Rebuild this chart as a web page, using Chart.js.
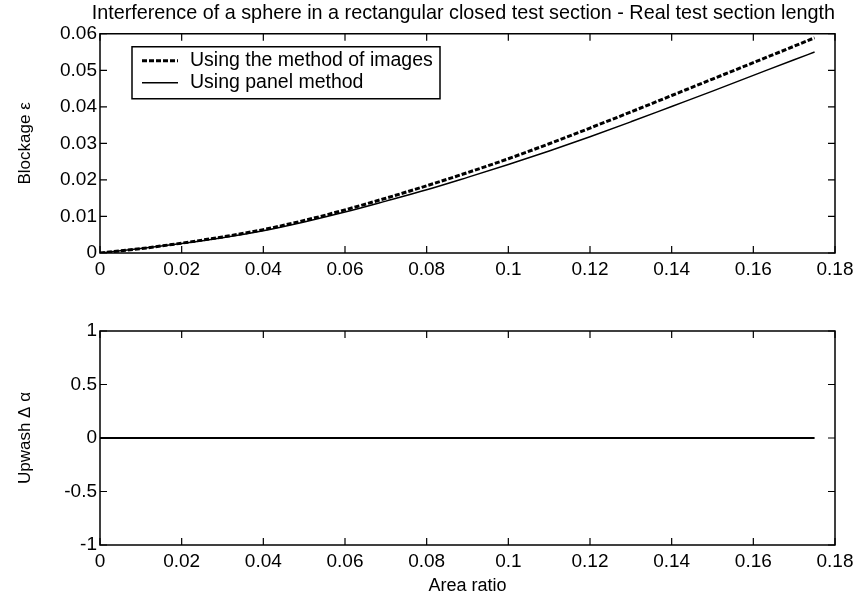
<!DOCTYPE html>
<html>
<head>
<meta charset="utf-8">
<script src="https://cdn.jsdelivr.net/npm/chart.js@4/dist/chart.umd.min.js"></script>
<style>
  body { margin: 0; background: #fff; }
  #wrap { position: relative; width: 856px; height: 600px; }
  canvas { position: absolute; left: 0; }
  #top { top: 0; }
  #bottom { top: 300px; }
</style>
</head>
<body>
<div id="wrap">
  <canvas id="top" width="856" height="300"></canvas>
  <canvas id="bottom" width="856" height="300"></canvas>
</div>
<script>
// values
const areaRatio = [0, 0.01, 0.02, 0.03, 0.04, 0.05, 0.06, 0.07, 0.08, 0.09, 0.10,
                   0.11, 0.12, 0.13, 0.14, 0.15, 0.16, 0.17, 0.175];
const blockageImages = [0, 0.0012, 0.0027, 0.0044, 0.0064, 0.0089, 0.0118, 0.0150, 0.0184, 0.0220, 0.0258,
                        0.0299, 0.0342, 0.0386, 0.0431, 0.0476, 0.0521, 0.0566, 0.0589];
const blockagePanel = [0, 0.0012, 0.0026, 0.0042, 0.0061, 0.0085, 0.0112, 0.0142, 0.0173, 0.0207, 0.0242,
                       0.0279, 0.0318, 0.0359, 0.0401, 0.0443, 0.0486, 0.0529, 0.0550];
const upwash = [0, 0, 0, 0, 0, 0, 0, 0, 0, 0, 0, 0, 0, 0, 0, 0, 0, 0, 0];
const xTicks = [0, 0.02, 0.04, 0.06, 0.08, 0.1, 0.12, 0.14, 0.16, 0.18];
const blockageTicks = [0, 0.01, 0.02, 0.03, 0.04, 0.05, 0.06];
const upwashTicks = [-1, -0.5, 0, 0.5, 1];
const labels = ['Using the method of images', 'Using panel method'];

const FONT = 'Liberation Sans, Arial, Helvetica, sans-serif';

function pts(ys) {
    return areaRatio.map(function(x, i) { return { x: x, y: ys[i] }; });
}

function fmt(v) {
    return String(Math.round(v * 1000) / 1000);
}

// MATLAB style box with inward ticks on all four sides
const boxPlugin = {
    id: 'box',
    afterDraw: function(chart) {
        const ctx = chart.ctx;
        const a = chart.chartArea;
        const len = 7;
        ctx.save();
        ctx.strokeStyle = '#000';
        ctx.lineWidth = 1.5;
        ctx.strokeRect(a.left, a.top, a.right - a.left, a.bottom - a.top);
        ctx.lineWidth = 1.2;
        ctx.beginPath();
        chart.scales.x.ticks.forEach(function(t) {
            const px = chart.scales.x.getPixelForValue(t.value);
            ctx.moveTo(px, a.bottom); ctx.lineTo(px, a.bottom - len);
            ctx.moveTo(px, a.top); ctx.lineTo(px, a.top + len);
        });
        chart.scales.y.ticks.forEach(function(t) {
            const py = chart.scales.y.getPixelForValue(t.value);
            ctx.moveTo(a.left, py); ctx.lineTo(a.left + len, py);
            ctx.moveTo(a.right, py); ctx.lineTo(a.right - len, py);
        });
        ctx.stroke();
        ctx.restore();
    }
};

// legend box inside the plot, upper left
const legendPlugin = {
    id: 'boxLegend',
    afterDraw: function(chart, args, opts) {
        if (!opts.show) return;
        const ctx = chart.ctx;
        const a = chart.chartArea;
        const x0 = a.left + 32, y0 = a.top + 13, w = 308, h = 52;
        ctx.save();
        ctx.fillStyle = '#fff';
        ctx.fillRect(x0, y0, w, h);
        ctx.strokeStyle = '#000';
        ctx.lineWidth = 1.5;
        ctx.strokeRect(x0, y0, w, h);
        ctx.font = '19.5px ' + FONT;
        ctx.textBaseline = 'middle';
        ctx.fillStyle = '#000';
        chart.data.datasets.forEach(function(ds, i) {
            const yy = y0 + 14 + i * 22;
            ctx.beginPath();
            ctx.setLineDash(ds.borderDash || []);
            ctx.lineWidth = ds.borderWidth;
            ctx.moveTo(x0 + 10, yy);
            ctx.lineTo(x0 + 46, yy);
            ctx.stroke();
            ctx.setLineDash([]);
            ctx.fillText(ds.label, x0 + 58, yy);
        });
        ctx.restore();
    }
};

function axisX(height, title) {
    return {
        type: 'linear',
        min: 0,
        max: 0.18,
        afterBuildTicks: function(s) { s.ticks = xTicks.map(function(v) { return { value: v }; }); },
        afterFit: function(s) { s.height = height; s.paddingLeft = 0; s.paddingRight = 0; },
        grid: { display: false, drawTicks: false },
        border: { display: false },
        ticks: { color: '#000', padding: 5, maxRotation: 0, autoSkip: false,
                 font: { family: FONT, size: 19 }, callback: fmt },
        title: { display: !!title, text: title, color: '#000',
                 font: { family: FONT, size: 18 }, padding: { top: 4, bottom: 3 } }
    };
}

function axisY(min, max, tickList, title) {
    return {
        min: min,
        max: max,
        afterBuildTicks: function(s) { s.ticks = tickList.map(function(v) { return { value: v }; }); },
        afterFit: function(s) { s.width = 100; },
        grid: { display: false, drawTicks: false },
        border: { display: false },
        ticks: { color: '#000', padding: 3, autoSkip: false,
                 font: { family: FONT, size: 19 }, callback: fmt },
        title: { display: true, text: title, color: '#000',
                 font: { family: FONT, size: 17 }, padding: { top: 15, bottom: 0 } }
    };
}

Chart.defaults.font.family = FONT;

new Chart(document.getElementById('top'), {
    type: 'line',
    data: {
        datasets: [{
            label: labels[0],
            data: pts(blockageImages),
            borderColor: '#000',
            borderWidth: 3,
            borderDash: [5, 2],
            pointRadius: 0,
            cubicInterpolationMode: 'monotone'
        }, {
            label: labels[1],
            data: pts(blockagePanel),
            borderColor: '#000',
            borderWidth: 1.5,
            pointRadius: 0,
            cubicInterpolationMode: 'monotone'
        }]
    },
    options: {
        responsive: false,
        animation: false,
        devicePixelRatio: 1,
        layout: { padding: { left: 0, right: 21, top: 0, bottom: 0 } },
        scales: {
            x: axisX(47, ''),
            y: axisY(0, 0.06, blockageTicks, 'Blockage ε')
        },
        plugins: {
            legend: { display: false },
            tooltip: { enabled: false },
            title: {
                display: true,
                align: 'end',
                text: 'Interference of a sphere in a rectangular closed test section - Real test section length',
                color: '#000',
                font: { family: FONT, size: 19.8, weight: 'normal' },
                padding: { top: 2, bottom: 8 }
            },
            boxLegend: { show: true }
        }
    },
    plugins: [boxPlugin, legendPlugin]
});

new Chart(document.getElementById('bottom'), {
    type: 'line',
    data: {
        datasets: [{
            label: 'Upwash',
            data: pts(upwash),
            borderColor: '#000',
            borderWidth: 2,
            pointRadius: 0
        }]
    },
    options: {
        responsive: false,
        animation: false,
        devicePixelRatio: 1,
        layout: { padding: { left: 0, right: 21, top: 31, bottom: 0 } },
        scales: {
            x: axisX(55, 'Area ratio'),
            y: axisY(-1, 1, upwashTicks, 'Upwash Δ α')
        },
        plugins: {
            legend: { display: false },
            tooltip: { enabled: false },
            title: { display: false },
            boxLegend: { show: false }
        }
    },
    plugins: [boxPlugin, legendPlugin]
});
</script>
</body>
</html>
